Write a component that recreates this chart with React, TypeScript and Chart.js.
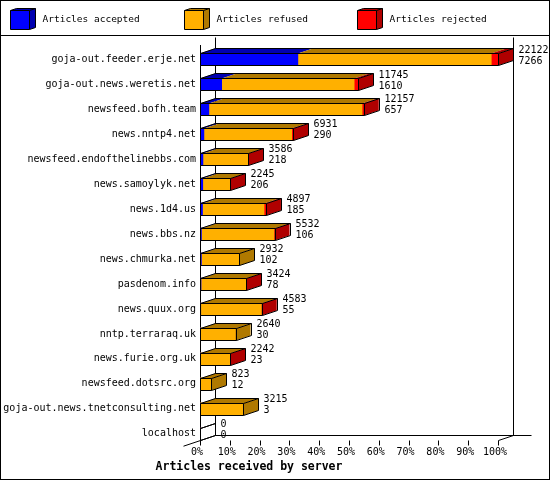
import { useEffect, useRef } from "react";
import { Chart, registerables } from "chart.js";

Chart.register(...registerables);

const servers = [
  "goja-out.feeder.erje.net",
  "goja-out.news.weretis.net",
  "newsfeed.bofh.team",
  "news.nntp4.net",
  "newsfeed.endofthelinebbs.com",
  "news.samoylyk.net",
  "news.1d4.us",
  "news.bbs.nz",
  "news.chmurka.net",
  "pasdenom.info",
  "news.quux.org",
  "nntp.terraraq.uk",
  "news.furie.org.uk",
  "newsfeed.dotsrc.org",
  "goja-out.news.tnetconsulting.net",
  "localhost",
];

// Numbers printed next to each bar (total received, accepted)
const offeredTotals = [22122, 11745, 12157, 6931, 3586, 2245, 4897, 5532, 2932, 3424, 4583, 2640, 2242, 823, 3215, 0];
const acceptedCounts = [7266, 1610, 657, 290, 218, 206, 185, 106, 102, 78, 55, 30, 23, 12, 3, 0];
// Estimated from the bar segments
const refusedCounts = [14356, 9835, 11375, 6516, 3348, 2024, 4572, 5406, 2830, 3331, 4513, 2610, 2209, 811, 3212, 0];
const rejectedCounts = [500, 300, 125, 125, 20, 15, 140, 20, 0, 15, 15, 0, 10, 0, 0, 0];

const seriesNames = ["Articles accepted", "Articles refused", "Articles rejected"];
const xTitle = "Articles received by server";

const FRONT = ["#0000ff", "#ffb000", "#ff0000"];
const SHADE = ["#0000b0", "#b07900", "#b00000"];
const DX = 15;
const DY = -5;
const MONO = '"DejaVu Sans Mono", "Liberation Mono", monospace';

const box3d = {
  id: "box3d",
  beforeDatasetsDraw(chart: any) {
    const { ctx, chartArea, scales } = chart;
    const xs = scales.x;
    const x0 = Math.round(xs.getPixelForValue(0)) + 0.5;
    const x100 = Math.round(xs.getPixelForValue(100)) + 0.5;
    const fb = Math.round(chartArea.bottom) - 5.5; // front baseline
    const backTop = Math.round(chartArea.top) - 9.5;
    ctx.save();
    ctx.strokeStyle = "#000";
    ctx.lineWidth = 1;
    ctx.beginPath();
    // back plane verticals
    ctx.moveTo(x0 + DX, backTop);
    ctx.lineTo(x0 + DX, fb + DY);
    ctx.moveTo(x100 + DX, backTop);
    ctx.lineTo(x100 + DX, fb + DY);
    // back bottom
    ctx.moveTo(x0 + DX, fb + DY);
    ctx.lineTo(x100 + DX + 18, fb + DY);
    // front left axis
    ctx.moveTo(x0, Math.round(chartArea.top) - 2);
    ctx.lineTo(x0, fb);
    // diagonals
    ctx.moveTo(x0 - 17, fb + 5.7);
    ctx.lineTo(x0 + DX, fb + DY);
    ctx.moveTo(x100, fb);
    ctx.lineTo(x100 + DX, fb + DY);
    // tick marks
    for (const t of xs.ticks) {
      const px = Math.round(xs.getPixelForValue(t.value)) + 0.5;
      ctx.moveTo(px, fb);
      ctx.lineTo(px, fb + 5);
    }
    ctx.stroke();
    ctx.restore();
  },
  afterDatasetsDraw(chart: any) {
    const { ctx } = chart;
    const n = chart.data.labels.length;
    const metas = chart.data.datasets.map((_: any, d: number) => chart.getDatasetMeta(d));
    ctx.save();
    ctx.lineWidth = 1;
    for (let i = 0; i < n; i++) {
      const segs = metas.map((m: any) => m.data[i].getProps(["x", "y", "base", "height"], true));
      const yc = segs[0].y;
      const h = segs[0].height;
      const top = Math.round(yc - h / 2) + 0.5;
      const bot = top + Math.round(h);
      const start = Math.min(...segs.map((s: any) => Math.min(s.x, s.base)));
      const end = Math.max(...segs.map((s: any) => Math.max(s.x, s.base)));
      // top faces
      segs.forEach((s: any, d: number) => {
        const a = Math.min(s.x, s.base);
        const b = Math.max(s.x, s.base);
        if (b - a <= 0.01) return;
        ctx.fillStyle = SHADE[d];
        ctx.beginPath();
        ctx.moveTo(a, top);
        ctx.lineTo(b, top);
        ctx.lineTo(b + DX, top + DY);
        ctx.lineTo(a + DX, top + DY);
        ctx.closePath();
        ctx.fill();
      });
      // side face
      let last = -1;
      const vals = [acceptedCounts[i], refusedCounts[i], rejectedCounts[i]];
      vals.forEach((v, d) => {
        if (v > 0) last = d;
      });
      if (last >= 0) {
        ctx.fillStyle = SHADE[last];
        ctx.beginPath();
        ctx.moveTo(end, top);
        ctx.lineTo(end + DX, top + DY);
        ctx.lineTo(end + DX, bot + DY);
        ctx.lineTo(end, bot);
        ctx.closePath();
        ctx.fill();
      }
      const s0 = Math.round(start) + 0.5;
      const e0 = Math.round(end) + 0.5;
      ctx.strokeStyle = "#000";
      ctx.beginPath();
      // front
      ctx.rect(s0, top, e0 - s0, bot - top);
      // top
      ctx.moveTo(s0, top);
      ctx.lineTo(s0 + DX, top + DY);
      ctx.lineTo(e0 + DX, top + DY);
      ctx.lineTo(e0, top);
      // side
      ctx.moveTo(e0 + DX, top + DY);
      ctx.lineTo(e0 + DX, bot + DY);
      ctx.lineTo(e0, bot);
      ctx.stroke();
      // value labels
      ctx.fillStyle = "#000";
      ctx.font = `10px ${MONO}`;
      ctx.textAlign = "left";
      ctx.textBaseline = "middle";
      ctx.fillText(String(offeredTotals[i]), e0 + DX + 5, yc - 9.5);
      ctx.fillText(String(acceptedCounts[i]), e0 + DX + 5, yc + 1.5);
    }
    ctx.restore();
  },
  afterDraw(chart: any) {
    const { ctx, width, height } = chart;
    ctx.save();
    ctx.strokeStyle = "#000";
    ctx.lineWidth = 1;
    ctx.strokeRect(0.5, 0.5, width - 1, height - 1);
    ctx.beginPath();
    ctx.moveTo(0, 35.5);
    ctx.lineTo(width, 35.5);
    ctx.stroke();
    // legend
    chart.data.datasets.forEach((ds: any, d: number) => {
      const bx = 10.5 + Math.round(d * 173.7);
      const by = 10.5;
      const s = 19;
      const dx = 6;
      const dy = -2;
      ctx.fillStyle = FRONT[d];
      ctx.fillRect(bx, by, s, s);
      ctx.fillStyle = SHADE[d];
      ctx.beginPath();
      ctx.moveTo(bx, by);
      ctx.lineTo(bx + dx, by + dy);
      ctx.lineTo(bx + s + dx, by + dy);
      ctx.lineTo(bx + s + dx, by + s + dy);
      ctx.lineTo(bx + s, by + s);
      ctx.lineTo(bx + s, by);
      ctx.closePath();
      ctx.fill();
      ctx.beginPath();
      ctx.rect(bx, by, s, s);
      ctx.moveTo(bx, by);
      ctx.lineTo(bx + dx, by + dy);
      ctx.lineTo(bx + s + dx, by + dy);
      ctx.lineTo(bx + s + dx, by + s + dy);
      ctx.lineTo(bx + s, by + s);
      ctx.moveTo(bx + s, by);
      ctx.lineTo(bx + s + dx, by + dy);
      ctx.stroke();
      ctx.fillStyle = "#000";
      ctx.font = `9.5px ${MONO}`;
      ctx.textAlign = "left";
      ctx.textBaseline = "middle";
      ctx.fillText(ds.label, bx + 32, 20);
    });
    ctx.restore();
  },
};

export default function App() {
  const ref = useRef<HTMLCanvasElement | null>(null);
  useEffect(() => {
    if (!ref.current) return;
    const maxTotal = Math.max(...offeredTotals);
    const pct = (arr: number[]) => arr.map((v) => (v / maxTotal) * 100);
    const chart = new Chart(ref.current, {
      type: "bar",
      data: {
        labels: servers,
        datasets: [
          { label: seriesNames[0], data: pct(acceptedCounts), backgroundColor: FRONT[0], borderWidth: 0, barThickness: 12 },
          { label: seriesNames[1], data: pct(refusedCounts), backgroundColor: FRONT[1], borderWidth: 0, barThickness: 12 },
          { label: seriesNames[2], data: pct(rejectedCounts), backgroundColor: FRONT[2], borderWidth: 0, barThickness: 12 },
        ],
      },
      options: {
        responsive: false,
        animation: false,
        devicePixelRatio: 1,
        indexAxis: "y",
        layout: { padding: { top: 47, right: 52, bottom: 0, left: 0 } },
        plugins: {
          legend: { display: false },
          tooltip: { enabled: false },
          title: {
            display: true,
            position: "bottom",
            text: xTitle,
            color: "#000",
            font: { family: MONO, size: 11.5, weight: "bold", lineHeight: 1.2 },
            padding: { top: 0, bottom: 6 },
          },
        },
        scales: {
          x: {
            type: "linear",
            stacked: true,
            min: 0,
            max: 100,
            ticks: {
              stepSize: 10,
              autoSkip: false,
              maxRotation: 0,
              padding: 0,
              labelOffset: -3,
              color: "#000",
              font: { family: MONO, size: 10 },
              callback: (v: any) => `${v}%`,
            },
            grid: { display: false, drawTicks: false },
            border: { display: false },
            afterFit: (s: any) => {
              s.height = 14;
            },
          },
          y: {
            type: "category",
            stacked: true,
            offset: true,
            ticks: {
              autoSkip: false,
              padding: 4,
              color: "#000",
              font: { family: MONO, size: 10 },
            },
            grid: { display: false, drawTicks: false },
            border: { display: false },
            afterFit: (s: any) => {
              s.width = 200;
            },
          },
        },
      },
      plugins: [box3d],
    } as any);
    return () => chart.destroy();
  }, []);
  return (
    <div style={{ position: "fixed", left: 0, top: 0, width: 550, height: 480, background: "#fff" }}>
      <canvas ref={ref} width={550} height={480} style={{ display: "block" }} />
    </div>
  );
}
